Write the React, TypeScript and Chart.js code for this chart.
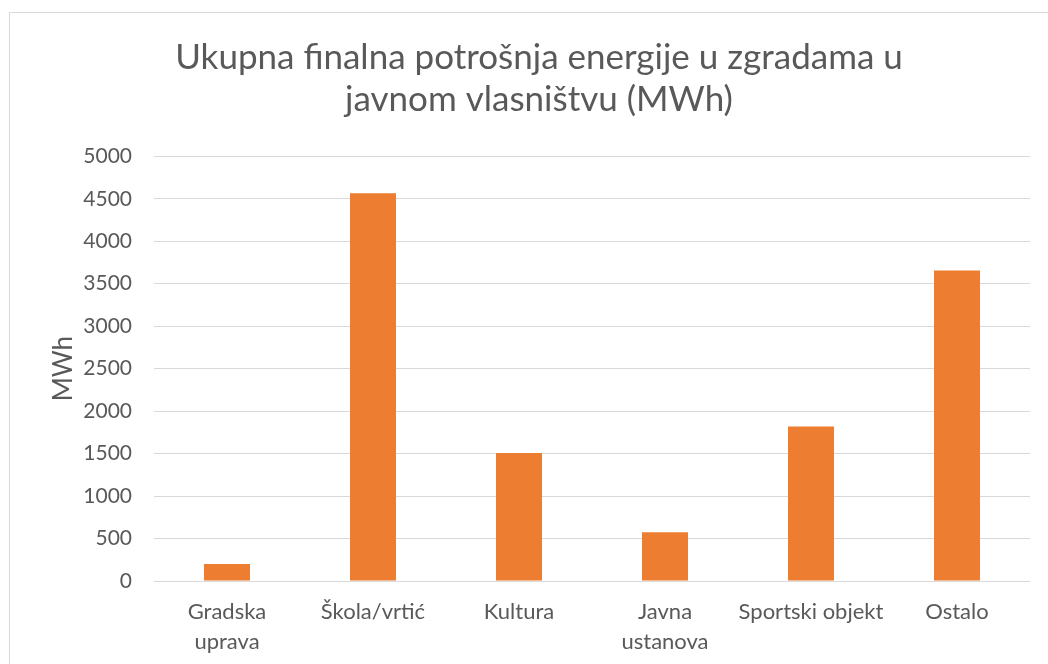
import React, { useEffect, useRef } from "react";
import { Chart, registerables } from "chart.js";

Chart.register(...registerables);

const categories: (string | string[])[] = [
  ["Gradska", "uprava"],
  "Škola/vrtić",
  "Kultura",
  ["Javna", "ustanova"],
  "Sportski objekt",
  "Ostalo",
];
const values: number[] = [200, 4565, 1506, 573, 1820, 3655];
const titleLines: string[] = [
  "Ukupna finalna potrošnja energije u zgradama u",
  "javnom vlasništvu (MWh)",
];
const yAxisTitle = "MWh";

const FONT = "Lato, 'Open Sans', sans-serif";
const TEXT = "#595959";

export default function App() {
  const ref = useRef<HTMLCanvasElement | null>(null);

  useEffect(() => {
    if (!ref.current) return;
    const chart = new Chart(ref.current, {
      type: "bar",
      data: {
        labels: categories,
        datasets: [
          {
            data: values,
            backgroundColor: "#ED7D31",
            borderWidth: 0,
            categoryPercentage: 1,
            barPercentage: 0.315,
          },
        ],
      },
      options: {
        responsive: false,
        animation: false,
        layout: { padding: { left: 48, right: 18, top: 0, bottom: 0 } },
        plugins: {
          legend: { display: false },
          tooltip: { enabled: false },
          title: {
            display: true,
            text: titleLines,
            color: TEXT,
            font: { family: FONT, size: 35, weight: "normal", lineHeight: 1.19 },
            padding: { top: 37, bottom: 36 },
          },
        },
        scales: {
          x: {
            grid: { display: false, drawTicks: false },
            border: { display: false },
            ticks: {
              color: TEXT,
              font: { family: FONT, size: 22, lineHeight: 1.36 },
              padding: 16,
              maxRotation: 0,
              autoSkip: false,
            },
            afterFit: (scale: any) => {
              scale.height = 83;
            },
          },
          y: {
            min: 0,
            max: 5000,
            grid: { color: "#d9d9d9", lineWidth: 1, drawTicks: false },
            border: { display: false },
            ticks: {
              stepSize: 500,
              color: TEXT,
              font: { family: FONT, size: 21 },
              padding: 22,
              callback: (v: any) => String(v),
            },
            title: {
              display: true,
              text: yAxisTitle,
              color: TEXT,
              font: { family: FONT, size: 26, lineHeight: 1.2 },
              padding: { top: 0, bottom: 0 },
            },
            afterFit: (scale: any) => {
              scale.width = 106;
            },
          },
        },
      },
    });
    return () => chart.destroy();
  }, []);

  return (
    <div
      style={{
        position: "fixed",
        left: 0,
        top: 0,
        width: 1048,
        height: 664,
        background: "#fff",
        overflow: "hidden",
      }}
    >
      <div
        style={{
          position: "absolute",
          left: 9,
          top: 12,
          width: 1100,
          height: 700,
          border: "1px solid #d9d9d9",
        }}
      />
      <canvas
        ref={ref}
        width={1048}
        height={664}
        style={{ position: "absolute", left: 0, top: 0, width: 1048, height: 664 }}
      />
    </div>
  );
}
